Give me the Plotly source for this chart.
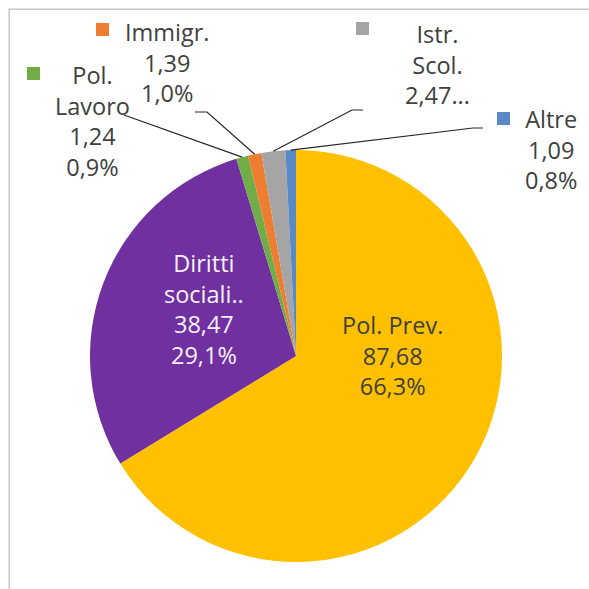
import math
import plotly.graph_objects as go

W = H = 589

# ---- data ----
categories = ["Pol. Prev.", "Diritti sociali..", "Pol. Lavoro", "Immigr.", "Istr. Scol.", "Altre"]
values = [87.68, 38.47, 1.24, 1.39, 2.47, 1.09]
value_labels = ["87,68", "38,47", "1,24", "1,39", "2,47...", "1,09"]
pct_labels = ["66,3%", "29,1%", "0,9%", "1,0%", "", "0,8%"]
colors = ["#FFC000", "#7030A0", "#70AD47", "#ED7D31", "#A5A5A5", "#5A8AC6"]

# ---- layout geometry (pixels) ----
CX, CY, R = 296, 356, 206
FONT = "Open Sans"
FS = 23.5
TXT = "#404040"
DY = -3  # vertical nudge for label blocks


def px(x):
    return x / W


def py(y):
    return 1 - y / H


fig = go.Figure(go.Pie(
    labels=categories, values=values, sort=False, direction="clockwise", rotation=0,
    marker=dict(colors=colors, line=dict(width=0)),
    textinfo="none", hoverinfo="label+value+percent", showlegend=False,
    domain=dict(x=[px(CX - R), px(CX + R)], y=[py(CY + R), py(CY - R)]),
))

total = sum(values)
cum = 0.0
mids = []
for v in values:
    f = v / total
    mids.append(360 * (cum + f / 2))
    cum += f


def edge(i, rr=R):
    a = math.radians(mids[i])
    return CX + rr * math.sin(a), CY - rr * math.cos(a)


annotations = []
shapes = []


def block(lines, x, y, color=TXT):
    annotations.append(dict(
        text="<br>".join(lines), x=px(x), y=py(y + DY), xref="paper", yref="paper",
        xanchor="center", yanchor="middle", align="center", showarrow=False,
        font=dict(family=FONT, size=FS, color=color)))


def key(i, x, y, s=13):
    shapes.append(dict(type="rect", xref="paper", yref="paper",
                       x0=px(x), x1=px(x + s), y0=py(y + s), y1=py(y),
                       fillcolor=colors[i], line=dict(width=0)))


def leader(i, pts):
    ex, ey = edge(i)
    allp = pts + [(ex, ey)]
    path = "M " + " L ".join(f"{px(a)},{py(b)}" for a, b in allp)
    shapes.append(dict(type="path", xref="paper", yref="paper", path=path,
                       line=dict(color="#262626", width=1.2)))


# inside labels
block([categories[0], value_labels[0], pct_labels[0]], 392, 358, TXT)
block(["Diritti", "sociali..", value_labels[1], pct_labels[1]], 204, 312, "#F4F0F8")

# outside labels
block(["Pol.", "Lavoro", value_labels[2], pct_labels[2]], 92, 124)
key(2, 27, 67)
leader(2, [(124, 115)])

block([categories[3], value_labels[3], pct_labels[3]], 167, 65)
key(3, 96, 23)
leader(3, [(195, 112), (207, 112)])

block(["Istr.", "Scol.", value_labels[4]], 437, 67)
key(4, 356, 22)
leader(4, [(363, 110), (352, 110)])

block([categories[5], value_labels[5], pct_labels[5]], 551, 152)
key(5, 497, 112)
leader(5, [(483, 128), (473, 128)])

# chart frame: filled strips for left and top edges
FRAME_C = "#C8C8C8"
shapes.append(dict(type="rect", xref="paper", yref="paper",
                   x0=px(8.5), x1=px(10), y0=0, y1=py(8.5),
                   fillcolor=FRAME_C, line=dict(width=0), layer="above"))
shapes.append(dict(type="rect", xref="paper", yref="paper",
                   x0=px(8.5), x1=1, y0=py(10), y1=py(8.5),
                   fillcolor=FRAME_C, line=dict(width=0), layer="above"))

fig.update_layout(
    width=W, height=H, margin=dict(l=0, r=0, t=0, b=0),
    paper_bgcolor="white", plot_bgcolor="white",
    annotations=annotations, shapes=shapes,
)
fig.write_html(
    "out.html",
    config={"displayModeBar": False},
    post_script="document.body.style.margin='0';document.body.style.overflow='hidden';",
)
